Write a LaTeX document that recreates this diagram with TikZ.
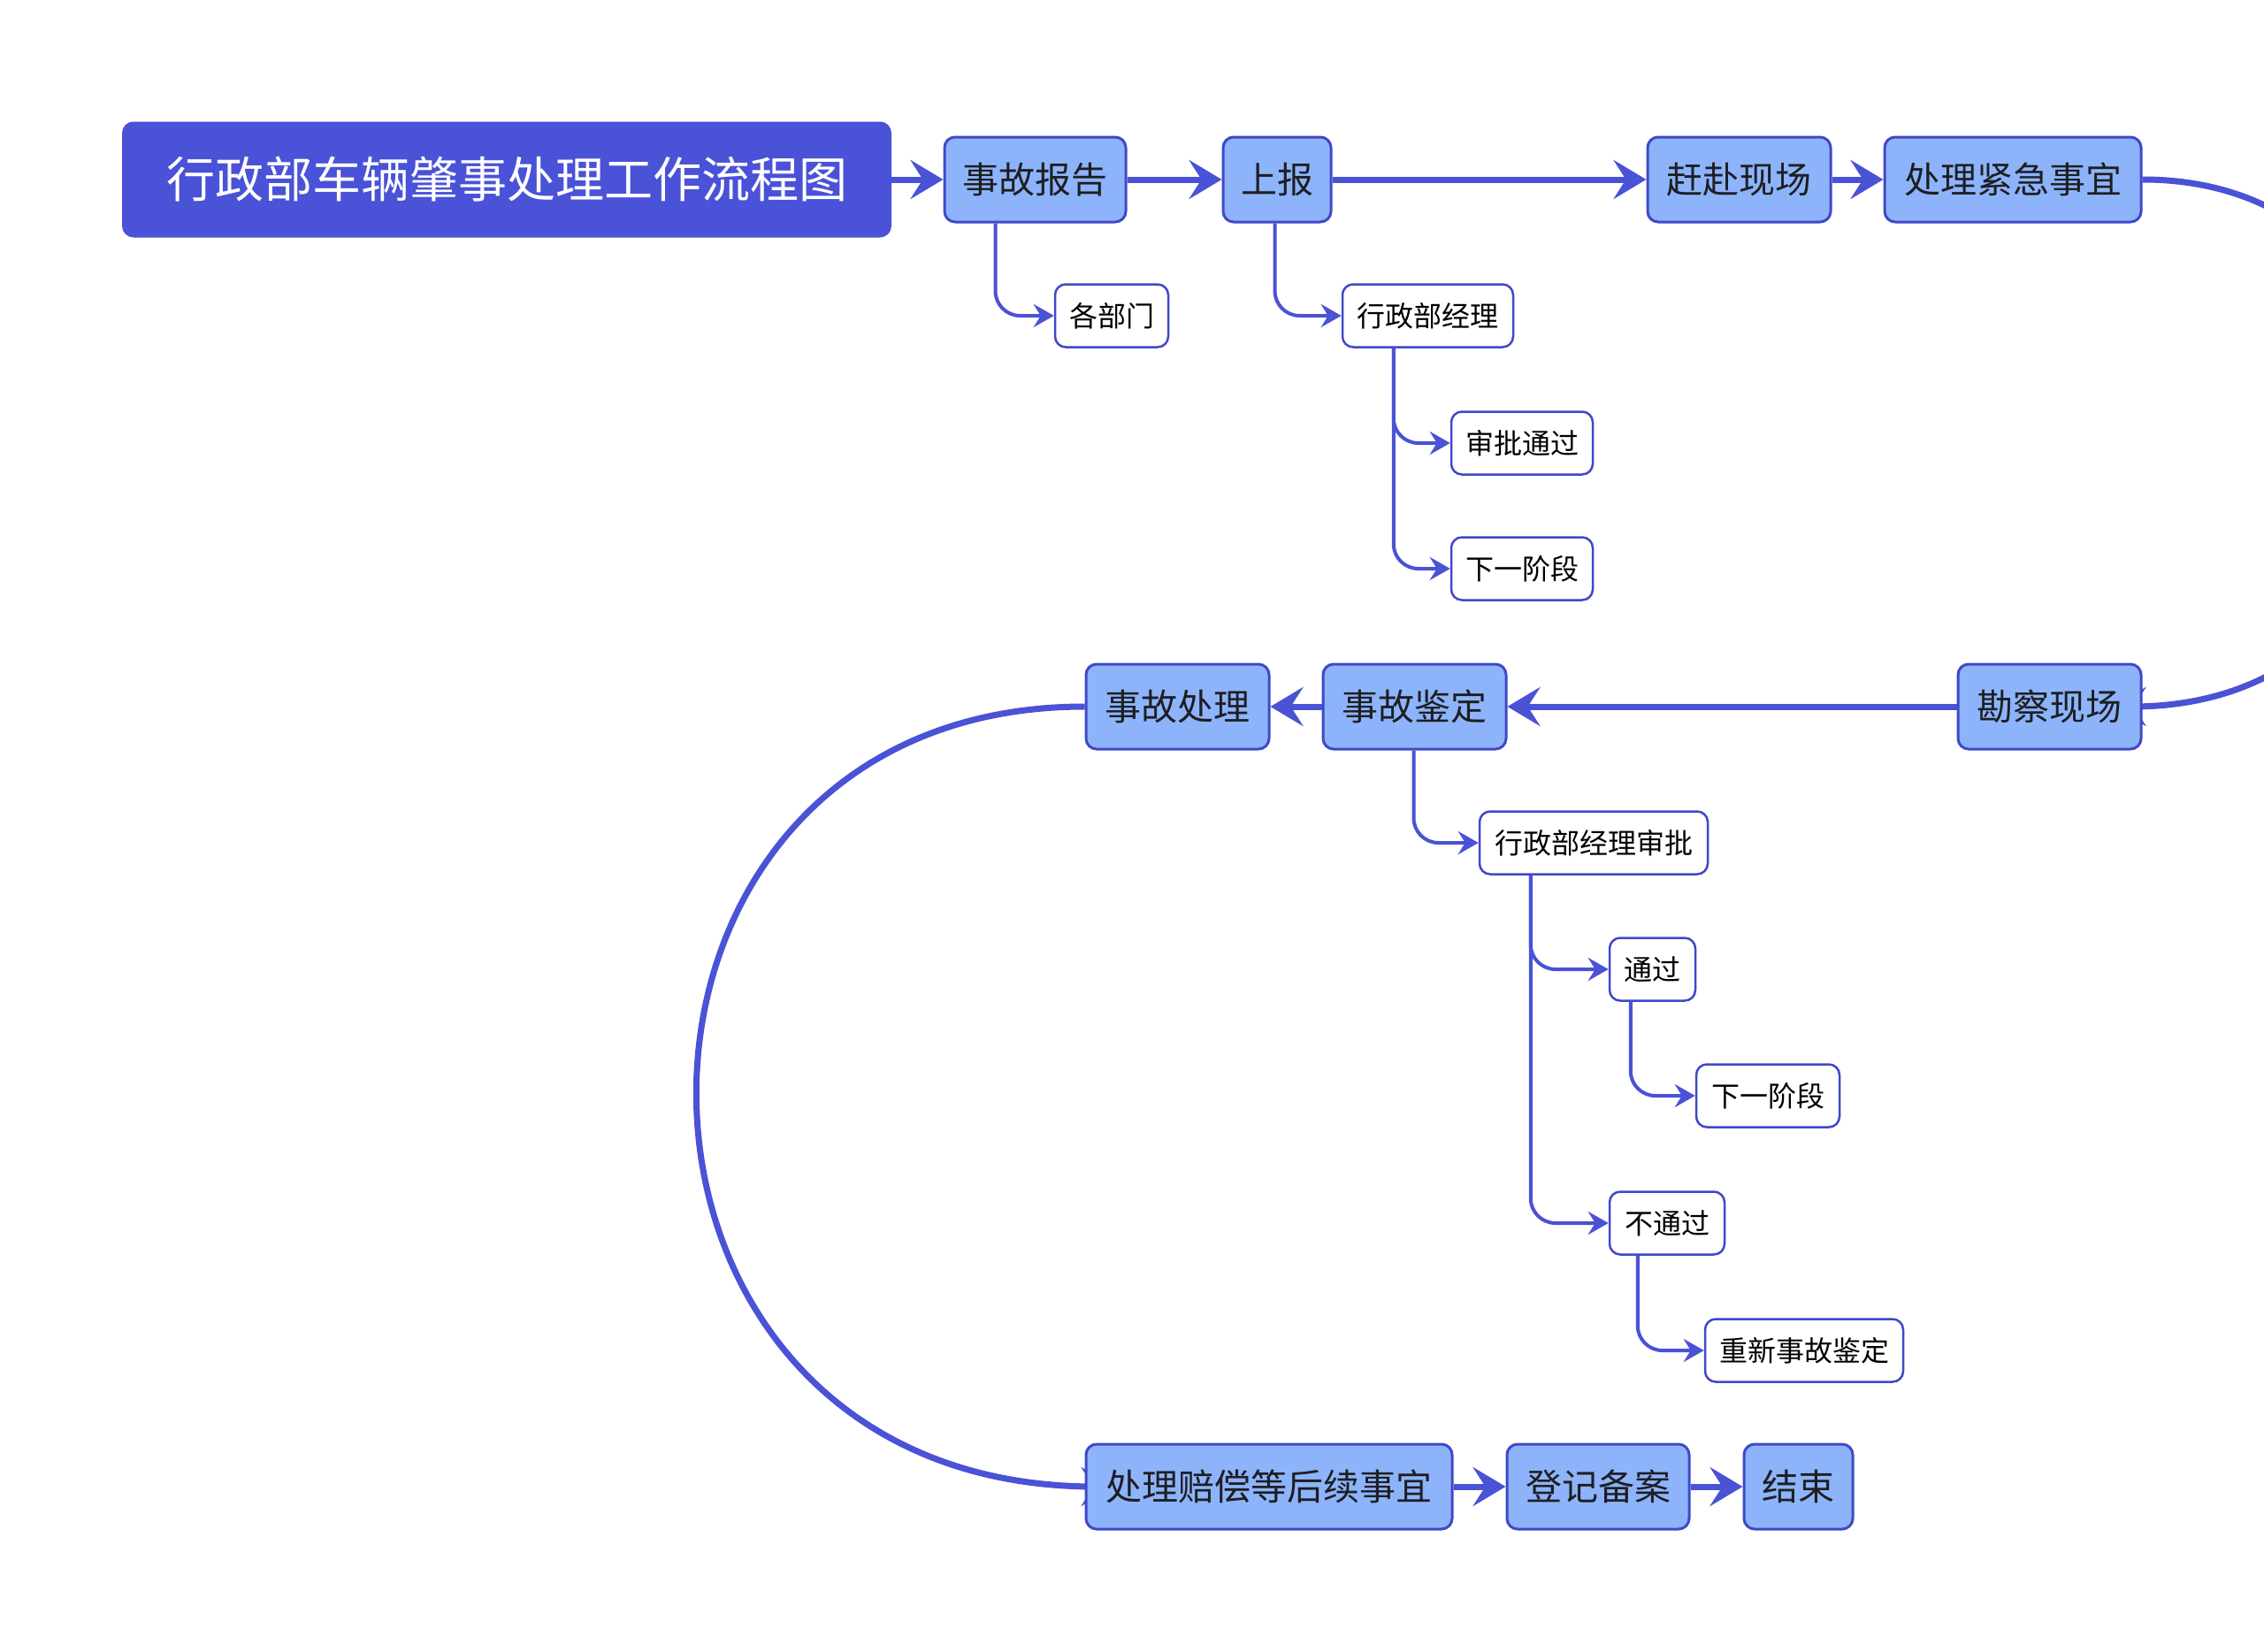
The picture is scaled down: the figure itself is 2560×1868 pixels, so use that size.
\documentclass[tikz,border=0pt]{standalone}
\usepackage{fontspec}
\newfontfamily\cjk{Noto Sans CJK SC}
\usetikzlibrary{arrows.meta,backgrounds}
\definecolor{linec}{RGB}{74,82,214}
\definecolor{titlefill}{RGB}{74,82,216}
\definecolor{mainfill}{RGB}{141,180,250}
\definecolor{boxline}{RGB}{64,72,200}
\definecolor{textdark}{RGB}{30,30,34}
\tikzset{
  titlebox/.style={draw=titlefill, line width=2pt, fill=titlefill, rounded corners=12pt, minimum width=868pt, minimum height=129pt, inner sep=0pt, text=white, font=\cjk\fontsize{55}{64}\selectfont},
  mainbox/.style={draw=boxline, line width=3pt, fill=mainfill, rounded corners=12pt, minimum height=96pt, inner sep=0pt, text=textdark, font=\cjk\fontsize{41}{49}\selectfont},
  subbox/.style={draw=boxline, line width=2.5pt, fill=white, rounded corners=12pt, minimum height=71pt, inner sep=0pt, text=black, font=\cjk\fontsize{32}{38}\selectfont},
  flow/.style={draw=linec, line width=7pt, -{Stealth[length=37pt,width=44pt,inset=14pt]}},
  branch/.style={draw=linec, line width=4pt, rounded corners=28pt, -{Stealth[length=23pt,width=26pt,inset=8pt]}},
}
\begin{document}
\begin{tikzpicture}[x=1pt,y=-1pt]
\useasboundingbox (0,0) rectangle (2560,1868);
\clip (0,0) rectangle (2560,1868);
% top row
\node[titlebox] (title) at (573,203) {行政部车辆肇事处理工作流程图};
\node[mainbox, minimum width=205pt] (bg) at (1170.5,203) {事故报告};
\node[mainbox, minimum width=122pt] (sb) at (1444,203) {上报};
\node[mainbox, minimum width=207pt] (gf) at (1966.5,203) {赶赴现场};
\node[mainbox, minimum width=290pt] (jj) at (2276,203) {处理紧急事宜};
\node[subbox, minimum width=128pt] (gbm) at (1257,357) {各部门};
\node[subbox, minimum width=193pt] (jl) at (1614.5,357) {行政部经理};
\node[subbox, minimum width=160pt] (sp) at (1721,501) {审批通过};
\node[subbox, minimum width=160pt] (xy1) at (1721,643) {下一阶段};
% middle row
\node[mainbox, minimum width=207pt] (kc) at (2317.5,799) {勘察现场};
\node[mainbox, minimum width=207pt] (jd) at (1599.5,799) {事故鉴定};
\node[mainbox, minimum width=207pt] (cl) at (1331.5,799) {事故处理};
\node[subbox, minimum width=258pt] (jlsp) at (1802,953) {行政部经理审批};
\node[subbox, minimum width=97pt] (tg) at (1868.5,1096) {通过};
\node[subbox, minimum width=162pt] (xy2) at (1999,1239) {下一阶段};
\node[subbox, minimum width=130pt] (btg) at (1885,1383) {不通过};
\node[subbox, minimum width=224pt] (cx) at (2040,1527) {重新事故鉴定};
% bottom row
\node[mainbox, minimum width=414pt] (pc) at (1435,1681) {处理赔偿等后续事宜};
\node[mainbox, minimum width=206pt] (ba) at (1807,1681) {登记备案};
\node[mainbox, minimum width=123pt] (js) at (2033.5,1681) {结束};
% curved connectors, behind the boxes
\begin{pgfonlayer}{background}
\fill[white] (0,0) rectangle (2560,1868);
\draw[flow] (jj.east) .. controls +(397,0) and +(430,0) .. ([xshift=-33pt]kc.east);
\draw[flow] (cl.west) .. controls +(-588,0) and +(-620,0) .. ([xshift=33pt]pc.west);
\end{pgfonlayer}
% main flow
\draw[flow] (title.east) -- (bg.west);
\draw[flow] (bg.east) -- (sb.west);
\draw[flow] (sb.east) -- (gf.west);
\draw[flow] (gf.east) -- (jj.west);
\draw[flow] (kc.west) -- (jd.east);
\draw[flow] (jd.west) -- (cl.east);
\draw[flow] (pc.east) -- (ba.west);
\draw[flow] (ba.east) -- (js.west);
% branches
\draw[branch] ([xshift=59pt]bg.south west) |- (gbm.west);
\draw[branch] ([xshift=60pt]sb.south west) |- (jl.west);
\draw[branch] ([xshift=59pt]jl.south west) |- (sp.west);
\draw[branch] ([xshift=59pt]jl.south west) |- (xy1.west);
\draw[branch] ([xshift=104pt]jd.south west) |- (jlsp.west);
\draw[branch] ([xshift=59pt]jlsp.south west) |- (tg.west);
\draw[branch] ([xshift=59pt]jlsp.south west) |- (btg.west);
\draw[branch] ([xshift=25pt]tg.south west) |- (xy2.west);
\draw[branch] ([xshift=33pt]btg.south west) |- (cx.west);
\end{tikzpicture}
\end{document}
